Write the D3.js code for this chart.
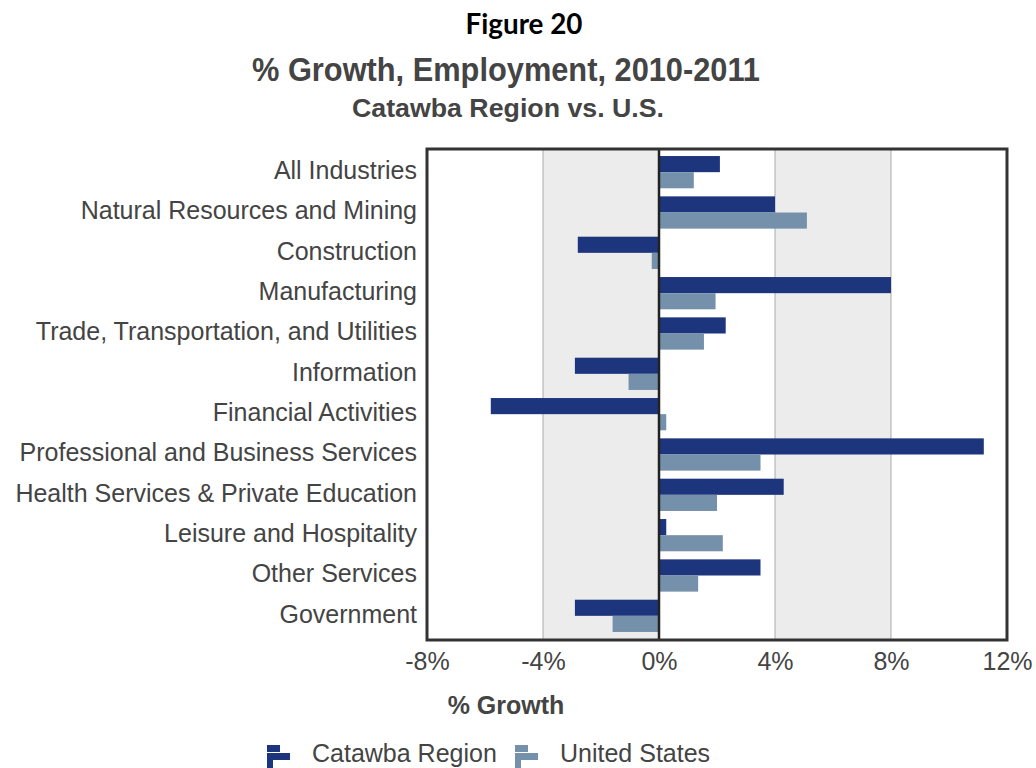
<!DOCTYPE html>
<html>
<head>
<meta charset="utf-8">
<script src="https://cdn.jsdelivr.net/npm/d3@7"></script>
<style>
  body { margin: 0; background: #fff; }
  text { font-family: "Liberation Sans", Arial, sans-serif; }
</style>
</head>
<body>
<svg id="chart" width="1036" height="768"></svg>
<script>
const categories = [
    'All Industries',
    'Natural Resources and Mining',
    'Construction',
    'Manufacturing',
    'Trade, Transportation, and Utilities',
    'Information',
    'Financial Activities',
    'Professional and Business Services',
    'Health Services & Private Education',
    'Leisure and Hospitality',
    'Other Services',
    'Government'
];
const seriesNames = ['Catawba Region', 'United States'];
const catawba = [2.1, 4.0, -2.8, 8.0, 2.3, -2.9, -5.8, 11.2, 4.3, 0.25, 3.5, -2.9];
const unitedStates = [1.2, 5.1, -0.25, 1.95, 1.55, -1.05, 0.25, 3.5, 2.0, 2.2, 1.35, -1.6];
const xTicks = [-8, -4, 0, 4, 8, 12];
const shadedBands = [[-4, 0], [4, 8]];

const colors = { 'Catawba Region': '#1c357c', 'United States': '#7590aa' };

const svg = d3.select('#chart');
const plotLeft = 427, plotRight = 1007, plotTop = 149, plotBottom = 640;

const x = d3.scaleLinear().domain([-8, 12]).range([plotLeft, plotRight]);
const y = d3.scaleBand().domain(categories).range([152, 636]).paddingInner(0.2).paddingOuter(0.1);
const yInner = d3.scaleBand().domain(seriesNames).range([0, y.bandwidth()]);

// titles
svg.append('text').attr('x', 524).attr('y', 34).attr('text-anchor', 'middle')
    .style('font-family', 'Lato, "Open Sans", sans-serif').style('font-weight', 'bold')
    .style('font-size', '29px').attr('fill', '#000')
    .attr('textLength', 117).attr('lengthAdjust', 'spacingAndGlyphs')
    .text('Figure 20');
svg.append('text').attr('x', 506).attr('y', 81).attr('text-anchor', 'middle')
    .style('font-weight', 'bold').style('font-size', '33px').attr('fill', '#444')
    .attr('textLength', 508).attr('lengthAdjust', 'spacingAndGlyphs')
    .text('% Growth, Employment, 2010-2011');
svg.append('text').attr('x', 508).attr('y', 117).attr('text-anchor', 'middle')
    .style('font-weight', 'bold').style('font-size', '25px').attr('fill', '#444')
    .attr('textLength', 312).attr('lengthAdjust', 'spacingAndGlyphs')
    .text('Catawba Region vs. U.S.');

// shaded bands
svg.selectAll('rect.band').data(shadedBands).enter().append('rect')
    .attr('class', 'band')
    .attr('x', d => x(d[0])).attr('width', d => x(d[1]) - x(d[0]))
    .attr('y', plotTop).attr('height', plotBottom - plotTop)
    .attr('fill', '#ececec');

// gridlines
svg.selectAll('line.grid').data([-4, 4, 8]).enter().append('line')
    .attr('class', 'grid')
    .attr('x1', d => x(d)).attr('x2', d => x(d))
    .attr('y1', plotTop).attr('y2', plotBottom)
    .attr('stroke', '#aaa').attr('stroke-width', 1);

// bars
const rows = categories.map((c, i) => ({ cat: c, values: [
    { name: 'Catawba Region', value: catawba[i] },
    { name: 'United States', value: unitedStates[i] }
] }));

const groups = svg.selectAll('g.row').data(rows).enter().append('g')
    .attr('class', 'row')
    .attr('transform', d => 'translate(0,' + y(d.cat) + ')');

groups.selectAll('rect').data(d => d.values).enter().append('rect')
    .attr('x', d => x(Math.min(0, d.value)))
    .attr('width', d => Math.abs(x(d.value) - x(0)))
    .attr('y', d => yInner(d.name))
    .attr('height', yInner.bandwidth())
    .attr('fill', d => colors[d.name]);

// zero line
svg.append('line').attr('x1', x(0)).attr('x2', x(0)).attr('y1', plotTop).attr('y2', plotBottom)
    .attr('stroke', '#222').attr('stroke-width', 2.5);

// frame
svg.append('rect').attr('x', plotLeft).attr('y', plotTop)
    .attr('width', plotRight - plotLeft).attr('height', plotBottom - plotTop)
    .attr('fill', 'none').attr('stroke', '#333').attr('stroke-width', 3);

// category labels
svg.selectAll('text.cat').data(categories).enter().append('text')
    .attr('class', 'cat')
    .attr('x', 417).attr('y', d => y(d) + y.bandwidth() / 2 - 2)
    .attr('dy', '0.35em').attr('text-anchor', 'end')
    .style('font-size', '25px').attr('fill', '#444')
    .text(d => d);

// x axis labels
const xAxis = svg.append('g').attr('transform', 'translate(0,' + plotBottom + ')')
    .call(d3.axisBottom(x).tickValues(xTicks).tickSize(0).tickPadding(12).tickFormat(d => d + '%'));
xAxis.select('.domain').remove();
xAxis.selectAll('text').style('font-size', '25px').style('font-family', '"Liberation Sans", Arial, sans-serif')
    .attr('fill', '#444');

svg.append('text').attr('x', 506).attr('y', 714).attr('text-anchor', 'middle')
    .style('font-weight', 'bold').style('font-size', '25px').attr('fill', '#444')
    .text('% Growth');

// legend
const legendItems = [
    { name: 'Catawba Region', x: 267, tx: 312 },
    { name: 'United States', x: 515, tx: 560 }
];
const lg = svg.selectAll('g.legend').data(legendItems).enter().append('g')
    .attr('class', 'legend');
lg.append('rect').attr('x', d => d.x).attr('y', 745).attr('width', 13).attr('height', 7)
    .attr('fill', d => colors[d.name]);
lg.append('rect').attr('x', d => d.x).attr('y', 753).attr('width', 23).attr('height', 7)
    .attr('fill', d => colors[d.name]);
lg.append('rect').attr('x', d => d.x).attr('y', 760).attr('width', 6).attr('height', 8)
    .attr('fill', d => colors[d.name]);
lg.append('text').attr('x', d => d.tx).attr('y', 762)
    .style('font-size', '25px').attr('fill', '#444')
    .text(d => d.name);
</script>
</body>
</html>
